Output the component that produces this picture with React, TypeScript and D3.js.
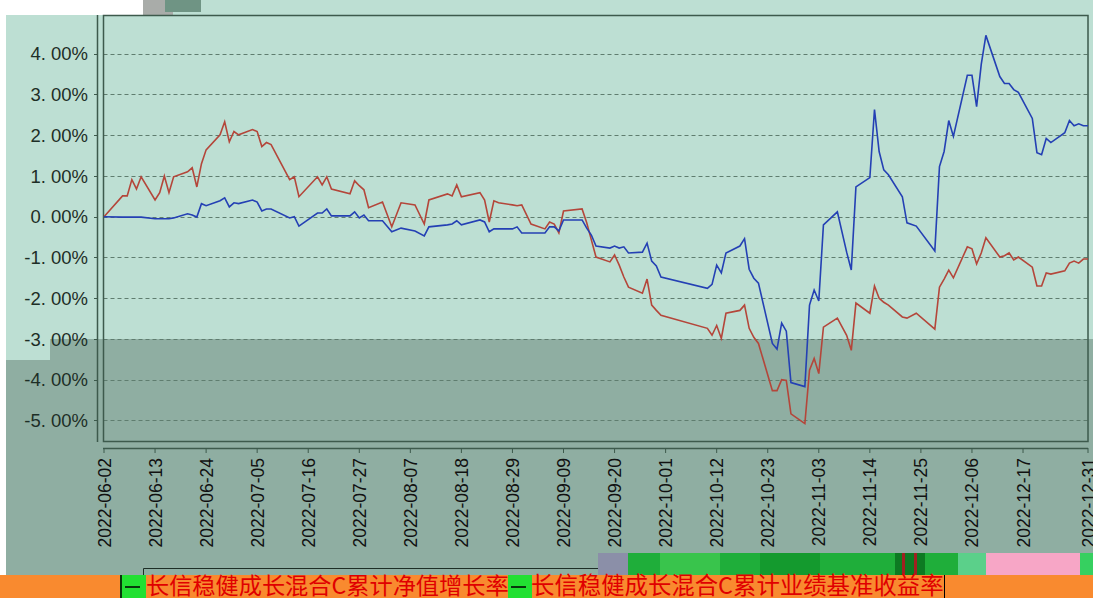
import * as d3 from "d3";

const dates = [
  "2022-06-02", "2022-06-06", "2022-06-07", "2022-06-08", "2022-06-09", "2022-06-10",
  "2022-06-13", "2022-06-14", "2022-06-15", "2022-06-16", "2022-06-17", "2022-06-20",
  "2022-06-21", "2022-06-22", "2022-06-23", "2022-06-24", "2022-06-27", "2022-06-28",
  "2022-06-29", "2022-06-30", "2022-07-01", "2022-07-04", "2022-07-05", "2022-07-06",
  "2022-07-07", "2022-07-08", "2022-07-12", "2022-07-13", "2022-07-14", "2022-07-18",
  "2022-07-19", "2022-07-20", "2022-07-21", "2022-07-25", "2022-07-26", "2022-07-27",
  "2022-07-28", "2022-07-29", "2022-08-01", "2022-08-03", "2022-08-05", "2022-08-08",
  "2022-08-10", "2022-08-11", "2022-08-15", "2022-08-16", "2022-08-17", "2022-08-18",
  "2022-08-22", "2022-08-23", "2022-08-24", "2022-08-25", "2022-08-26", "2022-08-29",
  "2022-08-30", "2022-08-31", "2022-09-02", "2022-09-05", "2022-09-06", "2022-09-07",
  "2022-09-08", "2022-09-09", "2022-09-13", "2022-09-14", "2022-09-15", "2022-09-16",
  "2022-09-19", "2022-09-20", "2022-09-21", "2022-09-22", "2022-09-23", "2022-09-26",
  "2022-09-27", "2022-09-28", "2022-09-29", "2022-09-30", "2022-10-10", "2022-10-11",
  "2022-10-12", "2022-10-13", "2022-10-14", "2022-10-17", "2022-10-18", "2022-10-19",
  "2022-10-20", "2022-10-21", "2022-10-24", "2022-10-25", "2022-10-26", "2022-10-27",
  "2022-10-28", "2022-10-31", "2022-11-01", "2022-11-02", "2022-11-03", "2022-11-04",
  "2022-11-07", "2022-11-09", "2022-11-10", "2022-11-11", "2022-11-14", "2022-11-15",
  "2022-11-16", "2022-11-17", "2022-11-18", "2022-11-21", "2022-11-22", "2022-11-24",
  "2022-11-28", "2022-11-29", "2022-11-30", "2022-12-01", "2022-12-02", "2022-12-05",
  "2022-12-06", "2022-12-07", "2022-12-08", "2022-12-09", "2022-12-12", "2022-12-13",
  "2022-12-14", "2022-12-15", "2022-12-16", "2022-12-19", "2022-12-20", "2022-12-21",
  "2022-12-22", "2022-12-23", "2022-12-26", "2022-12-27", "2022-12-28", "2022-12-29",
  "2022-12-30", "2022-12-31",
];

// 累计净值增长率 (%)
const fundValues = [
  0, -0.01, -0.01, -0.01, -0.01, -0.01,
  -0.05, -0.05, -0.05, -0.05, -0.03, 0.07,
  0.04, -0.01, 0.32, 0.27, 0.39, 0.46,
  0.24, 0.34, 0.32, 0.41, 0.36, 0.14,
  0.19, 0.19, -0.03, 0.0, -0.23, 0.09,
  0.09, 0.19, 0.02, 0.02, 0.12, -0.03,
  0.04, -0.1, -0.1, -0.37, -0.28, -0.35,
  -0.47, -0.25, -0.2, -0.18, -0.1, -0.2,
  -0.08, -0.13, -0.37, -0.3, -0.3, -0.3,
  -0.25, -0.4, -0.4, -0.4, -0.25, -0.25,
  -0.35, -0.08, -0.08, -0.28, -0.45, -0.72,
  -0.77, -0.72, -0.77, -0.74, -0.89, -0.87,
  -0.65, -1.09, -1.21, -1.48, -1.76, -1.66,
  -1.19, -1.38, -0.89, -0.72, -0.54, -1.29,
  -1.51, -1.63, -3.11, -3.25, -2.61, -2.81,
  -4.07, -4.17, -2.17, -1.8, -2.07, -0.2,
  0.12, -0.87, -1.31, 0.73, 0.96, 2.63,
  1.6, 1.15, 1.03, 0.49, -0.15, -0.23,
  -0.84, 1.23, 1.6, 2.36, 1.97, 3.47,
  3.47, 2.7, 3.74, 4.45, 3.44, 3.27,
  3.27, 3.12, 3.05, 2.41, 1.57, 1.52,
  1.92, 1.82, 2.06, 2.36, 2.23, 2.28,
  2.23, 2.23,
];

// 累计业绩基准收益率 (%)
const benchValues = [
  0, 0.51, 0.51, 0.91, 0.68, 0.98,
  0.41, 0.59, 1.0, 0.59, 0.98, 1.1,
  1.2, 0.73, 1.3, 1.64, 2.01, 2.33,
  1.84, 2.09, 2.01, 2.14, 2.09, 1.72,
  1.82, 1.77, 0.91, 0.98, 0.49, 0.98,
  0.78, 0.98, 0.68, 0.56, 0.88, 0.76,
  0.66, 0.22, 0.36, -0.25, 0.34, 0.29,
  -0.18, 0.41, 0.56, 0.51, 0.78, 0.49,
  0.59, 0.41, -0.13, 0.39, 0.34, 0.29,
  0.27, 0.29, -0.18, -0.3, -0.13, -0.18,
  -0.4, 0.14, 0.19, -0.15, -0.57, -0.99,
  -1.11, -0.94, -1.19, -1.48, -1.73, -1.88,
  -1.53, -2.17, -2.3, -2.42, -2.74, -2.91,
  -2.67, -2.99, -2.37, -2.3, -2.17, -2.74,
  -2.96, -3.11, -4.27, -4.27, -4.0, -4.02,
  -4.84, -5.08, -3.77, -3.48, -3.85, -2.71,
  -2.49, -2.91, -3.28, -2.12, -2.37, -1.7,
  -2.0, -2.1, -2.17, -2.46, -2.49, -2.37,
  -2.76, -1.73, -1.53, -1.31, -1.5, -0.74,
  -0.79, -1.16, -0.89, -0.52, -0.99, -0.96,
  -0.89, -1.06, -0.99, -1.24, -1.7, -1.7,
  -1.38, -1.41, -1.33, -1.14, -1.09, -1.14,
  -1.04, -1.04,
];

const yTicks = [4, 3, 2, 1, 0, -1, -2, -3, -4, -5];

const xTickLabels = [
  "2022-06-02", "2022-06-13", "2022-06-24", "2022-07-05", "2022-07-16",
  "2022-07-27", "2022-08-07", "2022-08-18", "2022-08-29", "2022-09-09",
  "2022-09-20", "2022-10-01", "2022-10-12", "2022-10-23", "2022-11-03",
  "2022-11-14", "2022-11-25", "2022-12-06", "2022-12-17", "2022-12-31",
];

const seriesNames = ["长信稳健成长混合C累计净值增长率", "长信稳健成长混合C累计业绩基准收益率"];

const W = 1093;
const H = 598;
const plot = { left: 103.5, right: 1088, top: 15.5, bottom: 441.5 };

export default function App() {
  const parse = d3.timeParse("%Y-%m-%d");
  const x = d3
    .scaleTime()
    .domain([parse("2022-06-02")!, parse("2022-12-31")!])
    .range([104, 1088]);
  const y = d3.scaleLinear().domain([-5.53, 4.95]).range([442, 15]);

  const pts = dates.map((d, i) => ({ t: parse(d)!, f: fundValues[i], b: benchValues[i] }));
  const fundLine = d3
    .line<any>()
    .x((d) => x(d.t))
    .y((d) => y(d.f))(pts);
  const benchLine = d3
    .line<any>()
    .x((d) => x(d.t))
    .y((d) => y(d.b))(pts);

  const axisColor = "#3d5a4c";
  const yDark = Math.round(y(-3));

  return (
    <svg
      width={W}
      height={H}
      style={{ position: "absolute", left: 0, top: 0, display: "block" }}
      fontFamily="'Liberation Sans', Arial, sans-serif"
    >
      <rect x={0} y={0} width={W} height={H} fill="#ffffff" />
      {/* backgrounds */}
      <rect x={143} y={0} width={W - 143} height={16} fill="#bddfd3" />
      <rect x={6} y={15} width={W - 6} height={575 - 15} fill="#bddfd3" />
      <rect x={50} y={yDark} width={W - 50} height={575 - yDark} fill="#8faea2" />
      <rect x={6} y={360} width={50} height={575 - 360} fill="#8faea2" />
      <rect x={143} y={0} width={30} height={15} fill="#a9aca9" />
      <rect x={165} y={0} width={36} height={12} fill="#6f9484" />

      {/* grid */}
      {yTicks.map((v) => (
        <line
          key={"g" + v}
          x1={plot.left}
          x2={plot.right}
          y1={Math.round(y(v)) + 0.5}
          y2={Math.round(y(v)) + 0.5}
          stroke="#5f7d6f"
          strokeDasharray="4,3"
          strokeWidth={1}
        />
      ))}

      {/* frame */}
      <rect
        x={plot.left}
        y={plot.top}
        width={plot.right - plot.left}
        height={plot.bottom - plot.top}
        fill="none"
        stroke={axisColor}
        strokeWidth={1.5}
      />
      <line x1={97.5} x2={97.5} y1={15} y2={442} stroke={axisColor} strokeWidth={1.5} />
      {yTicks.map((v) => (
        <g key={"yt" + v}>
          <line x1={94} x2={98} y1={Math.round(y(v)) + 0.5} y2={Math.round(y(v)) + 0.5} stroke={axisColor} />
          <text
            x={88}
            y={y(v)}
            dy="0.36em"
            textAnchor="end"
            fontSize={18.5}
            fill="#1d2e26"
          >
            {(v < 0 ? "-" : "") + Math.abs(v) + ". 00%"}
          </text>
        </g>
      ))}

      {/* x axis */}
      <line x1={103} x2={1088} y1={448.5} y2={448.5} stroke={axisColor} strokeWidth={1.5} />
      {xTickLabels.map((d) => {
        const px = x(parse(d)!);
        return (
          <g key={"xt" + d}>
            <line x1={px} x2={px} y1={448} y2={453} stroke={axisColor} />
            <text
              transform={`translate(${px + 6.5},458) rotate(-90)`}
              textAnchor="end"
              fontSize={17.5}
              fill="#111"
            >
              {d}
            </text>
          </g>
        );
      })}

      {/* series */}
      <path d={benchLine!} fill="none" stroke="#b4463a" strokeWidth={1.6} />
      <path d={fundLine!} fill="none" stroke="#2440b4" strokeWidth={1.6} />

      {/* glitch band above legend */}
      <rect x={598} y={553} width={30} height={22} fill="#8b8fa8" />
      <rect x={628} y={553} width={330} height={22} fill="#1fae3a" />
      <rect x={660} y={553} width={60} height={22} fill="#39c44c" />
      <rect x={760} y={553} width={60} height={22} fill="#149a2e" />
      <rect x={895} y={553} width={30} height={22} fill="#0d7a22" />
      <rect x={902} y={553} width={3} height={22} fill="#a02020" />
      <rect x={914} y={553} width={3} height={22} fill="#a02020" />
      <rect x={958} y={553} width={28} height={22} fill="#5bd08a" />
      <rect x={986} y={553} width={94} height={22} fill="#f7a6c6" />
      <rect x={1080} y={553} width={13} height={22} fill="#36d060" />

      {/* legend */}
      <rect x={0} y={575} width={W} height={23} fill="#f98a2f" />
      <polyline points="143.5,575 143.5,568.5 598,568.5" fill="none" stroke="#1d2e26" strokeWidth={1} />
      <rect x={120} y={575} width={26} height={23} fill="#22e032" />
      <line x1={121} x2={121} y1={575} y2={598} stroke="#000" strokeWidth={1.5} />
      <line x1={125} x2={140} y1={587} y2={587} stroke="#000" strokeWidth={1.5} />
      <text x={146} y={594} fontSize={23.2} fill="#e00000" fontFamily="'Noto Sans CJK SC', sans-serif">
        {seriesNames[0]}
      </text>
      <rect x={508} y={575} width={24} height={23} fill="#22e032" />
      <line x1={511} x2={526} y1={587} y2={587} stroke="#000" strokeWidth={1.5} />
      <text x={531} y={594} fontSize={23.4} fill="#e00000" fontFamily="'Noto Sans CJK SC', sans-serif">
        {seriesNames[1]}
      </text>
      <line x1={944.5} x2={944.5} y1={575} y2={598} stroke="#000" strokeWidth={1} />
    </svg>
  );
}
